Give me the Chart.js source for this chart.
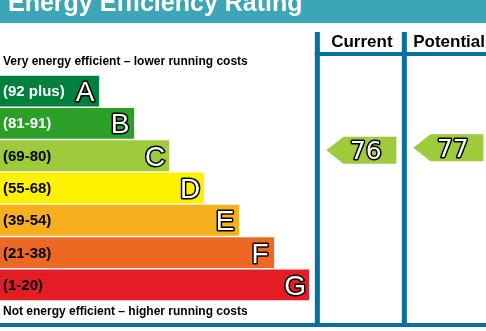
<!DOCTYPE html>
<html>
<head>
<meta charset="utf-8">
<title>Energy Efficiency Rating</title>
<script src="https://cdn.jsdelivr.net/npm/chart.js@4/dist/chart.umd.min.js"></script>
<style>
  html, body { margin: 0; padding: 0; background: #fff; }
  canvas { display: block; }
</style>
</head>
<body>
<canvas id="epc" width="486" height="331"></canvas>
<script>
// rating bands, top (best) to bottom
const bandLetters = ['A', 'B', 'C', 'D', 'E', 'F', 'G']
const bandRanges = ['(92 plus)', '(81-91)', '(69-80)', '(55-68)', '(39-54)', '(21-38)', '(1-20)']
const bandFloor = [92, 81, 69, 55, 39, 21, 1]
const bandCeil = [100, 91, 80, 68, 54, 38, 20]
const bandLengths = [20.4, 27.6, 34.8, 42, 49.2, 56.4, 63.6]

// scores shown in the two right-hand columns
const ratingColumns = ['Current', 'Potential']
const ratingScores = [76, 77]

// x positions (scale units) of the column separators
const columnEdges = [65.3, 83.2, 101.2]

const bandColors = ['#007f3d', '#2c9f29', '#9dcb3c', '#fff200', '#f7af1d', '#ed6823', '#e31d23']
const bandTextColors = ['#fff', '#fff', '#000', '#000', '#000', '#000', '#000']
const titleBg = '#3ca5b7'
const frameBlue = '#07709b'
const sans = '"Liberation Sans", Arial, sans-serif'

const arrow = { width: 70, height: 27, nose: 17, inset: 9 }

// where a score sits vertically inside its band (fractional category index)
const scoreIndex = (score) => {
  const i = bandFloor.findIndex(lo => score >= lo)
  return i - 0.5 + (bandCeil[i] - score) / (bandCeil[i] - bandFloor[i] + 1)
}

const outlinedText = (ctx, text, x, y, font, lw) => {
  ctx.font = font
  ctx.lineJoin = 'round'
  ctx.lineWidth = lw
  ctx.strokeStyle = '#000'
  ctx.strokeText(text, x, y)
  ctx.fillStyle = '#fff'
  ctx.fillText(text, x, y)
}

const epcPanel = {
  id: 'epcPanel',
  beforeDraw(chart) {
    const { ctx, width, height } = chart
    ctx.save()
    ctx.fillStyle = '#fff'
    ctx.fillRect(0, 0, width, height)

    // title strip, text partly above the top edge
    ctx.fillStyle = titleBg
    ctx.fillRect(0, 0, width, 23)
    ctx.fillStyle = '#fff'
    ctx.font = 'bold 25px ' + sans
    ctx.textBaseline = 'alphabetic'
    ctx.fillText('Energy Efficiency Rating', 8, 11)

    ctx.fillStyle = '#000'
    ctx.font = 'bold 12px ' + sans
    ctx.fillText('Very energy efficient \u2013 lower running costs', 3, 65)
    ctx.fillText('Not energy efficient \u2013 higher running costs', 3, 315)
    ctx.restore()
  },
  afterDatasetsDraw(chart) {
    const { ctx, width } = chart
    const x = chart.scales.x
    const y = chart.scales.y
    const meta = chart.getDatasetMeta(0)
    ctx.save()

    // band range labels and letters
    meta.data.forEach((bar, i) => {
      const cy = bar.y
      ctx.fillStyle = bandTextColors[i]
      ctx.font = 'bold 15px ' + sans
      ctx.textAlign = 'left'
      ctx.fillText(bandRanges[i], 3, cy + 5)
      ctx.textAlign = 'center'
      outlinedText(ctx, bandLetters[i], bar.x - 14, cy + 10, '28px ' + sans, 3)
    })

    // column frame
    const edges = columnEdges.map(v => x.getPixelForValue(v))
    ctx.fillStyle = frameBlue
    ctx.fillRect(0, 323, width, 4)
    ctx.fillRect(edges[0] - 2.5, 52, width, 4)
    edges.slice(0, 2).forEach(px => ctx.fillRect(px - 2.5, 32, 5, 295))

    ratingColumns.forEach((name, k) => {
      ctx.fillStyle = '#000'
      ctx.font = 'bold 17px ' + sans
      ctx.textAlign = 'center'
      ctx.fillText(name, (edges[k] + edges[k + 1]) / 2 + 1, 46.5)

      const score = ratingScores[k]
      const band = bandFloor.findIndex(lo => score >= lo)
      const cy = y.getPixelForValue(scoreIndex(score))
      const tip = edges[k] + arrow.inset
      const h = arrow.height / 2
      ctx.fillStyle = bandColors[band]
      ctx.beginPath()
      ctx.moveTo(tip, cy)
      ctx.lineTo(tip + arrow.nose, cy - h)
      ctx.lineTo(tip + arrow.width, cy - h)
      ctx.lineTo(tip + arrow.width, cy + h)
      ctx.lineTo(tip + arrow.nose, cy + h)
      ctx.closePath()
      ctx.fill()

      const tx = tip + arrow.nose + (arrow.width - arrow.nose) / 2 - 4
      outlinedText(ctx, String(score), tx, cy + 9, '25px "DejaVu Sans", sans-serif', 3)
    })
    ctx.restore()
  }
}

new Chart(document.getElementById('epc'), {
  type: 'bar',
  data: {
    labels: bandLetters,
    datasets: [{
      data: bandLengths,
      backgroundColor: bandColors,
      borderWidth: 0,
      barPercentage: 0.955,
      categoryPercentage: 1
    }]
  },
  options: {
    indexAxis: 'y',
    responsive: false,
    animation: false,
    devicePixelRatio: 1,
    layout: { padding: { top: 75, bottom: 30, left: 0, right: 0 } },
    scales: {
      x: { type: 'linear', min: 0, max: 100, display: false },
      y: { display: false }
    },
    plugins: {
      legend: { display: false },
      tooltip: { enabled: false }
    }
  },
  plugins: [epcPanel]
})
</script>
</body>
</html>
